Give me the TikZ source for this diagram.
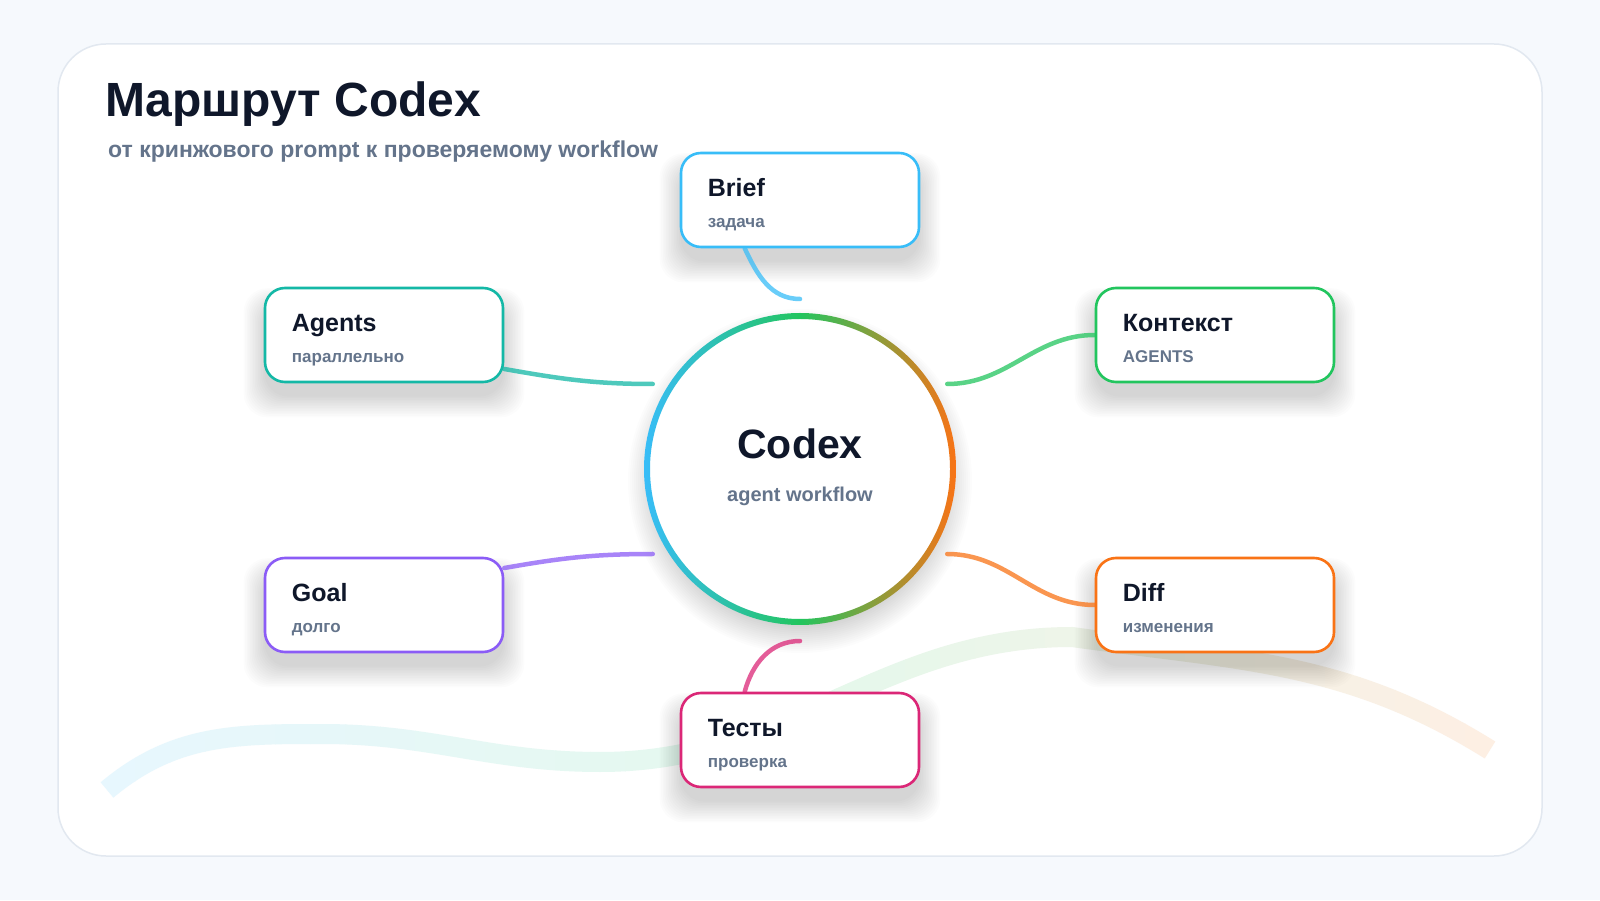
\documentclass[tikz,border=0pt]{standalone}
\usepackage{fontspec}
\setmainfont{Liberation Sans}
\usetikzlibrary{positioning,calc}

\definecolor{pagebg}{HTML}{F6F9FD}
\definecolor{cardline}{HTML}{E2E8F0}
\definecolor{ink}{HTML}{0F172A}
\definecolor{muted}{HTML}{64748B}
\definecolor{cSky}{HTML}{38BDF8}
\definecolor{cTeal}{HTML}{14B8A6}
\definecolor{cGreen}{HTML}{22C55E}
\definecolor{cViolet}{HTML}{8B5CF6}
\definecolor{cOrange}{HTML}{F97316}
\definecolor{cPink}{HTML}{DB2777}

\newcommand\wavepath{(107,110) to[out=40,in=180] (322,166) to[out=0,in=180] (600,138)
  to[out=0,in=180] (1072,263) to[out=-8,in=148] (1490,150)}

\tikzset{
  stepcard/.style={draw=#1, line width=2.6pt, fill=white, rounded corners=20pt,
    minimum width=238pt, minimum height=94pt},
  softshade/.style={fill=black, fill opacity=0.011},
  cardtitle/.style={anchor=base west, text=ink, inner sep=0pt,
    font=\fontsize{25}{30}\selectfont\bfseries},
  cardsub/.style={anchor=base west, text=muted, inner sep=0pt,
    font=\fontsize{17}{20}\selectfont\bfseries},
  link/.style={draw=#1, draw opacity=0.75, line width=4.5pt, line cap=round},
}

\begin{document}
\begin{tikzpicture}[x=1pt,y=1pt]
  \useasboundingbox (0,0) rectangle (1600,900);
  \fill[pagebg] (0,0) rectangle (1600,900);
  \draw[cardline, line width=1.5pt, fill=white, rounded corners=48pt] (58,44) rectangle (1542,856);

  % Wave ribbon in the background
  \foreach \i in {0,...,19} {
    \pgfmathsetmacro\xa{100+35*\i}
    \pgfmathtruncatemacro\pa{5*\i}
    \begin{scope}
      \clip (\xa,0) rectangle ++(35.5,900);
      \draw[draw=cGreen!\pa!cSky!12!white, line width=20pt] \wavepath;
    \end{scope}
    \pgfmathsetmacro\xb{800+35*\i}
    \begin{scope}
      \clip (\xb,0) rectangle ++(35.5,900);
      \draw[draw=cOrange!\pa!cGreen!12!white, line width=20pt] \wavepath;
    \end{scope}
  }

  % Title
  \node[anchor=base west, inner sep=0pt, text=ink, font=\fontsize{48}{57}\selectfont\bfseries]
    (title) at (105,783) {Маршрут Codex};
  \node[anchor=base west, inner sep=0pt, text=muted, font=\fontsize{23}{27}\selectfont\bfseries]
    (subtitle) at (108,742) {от кринжового prompt к проверяемому workflow};

  % Hub
  \foreach \k in {1,...,16}
    \fill[softshade] (800,419) circle (140+2*\k);
  \node[circle, minimum size=306pt, fill=white] (hub) at (800,431) {};
  \shade[left color=cSky, right color=cOrange, middle color=cGreen, even odd rule]
    (hub.center) circle (156) circle (150);
  \node[anchor=base, inner sep=0pt, text=ink, font=\fontsize{41}{48}\selectfont\bfseries]
    (hubtitle) at (800,441) {Codex};
  \node[anchor=base, inner sep=0pt, text=muted, font=\fontsize{20}{24}\selectfont\bfseries]
    (hubsub) at (800,398) {agent workflow};

  % Step cards
  \foreach \nm/\x/\y/\col/\ttl/\sub in {
      brief/800/700/cSky/Brief/задача,
      agents/384/565/cTeal/Agents/параллельно,
      context/1215/565/cGreen/Контекст/AGENTS,
      goal/384/295/cViolet/Goal/долго,
      diff/1215/295/cOrange/Diff/изменения,
      tests/800/160/cPink/Тесты/проверка} {
    \foreach \k in {1,...,14}
      \fill[softshade, rounded corners=24pt]
        (\x-118-1.6*\k,\y-60-1.6*\k) rectangle (\x+118+1.6*\k,\y+30+1.2*\k);
    \node[stepcard=\col] (\nm) at (\x,\y) {};
    \node[cardtitle] (\nm-t) at ($(\nm.north west)+(28,-45)$) {\ttl};
    \node[cardsub] (\nm-s) at ($(\nm.north west)+(28,-76)$) {\sub};
  }

  % Links
  \coordinate (briefout) at ($(brief.south west)+(65,0)$);
  \coordinate (testsin) at ($(tests.north west)+(65,0)$);
  \draw[link=cSky] (briefout) to[out=-65,in=180] ($(hub.center)+(90:170)$);
  \draw[link=cTeal] ($(agents.east)+(0,-34)$) to[out=-10,in=180] ($(hub.center)+(150:170)$);
  \draw[link=cGreen] ($(hub.center)+(30:170)$) to[out=0,in=180] (context.west);
  \draw[link=cViolet] ($(goal.east)+(0,37)$) to[out=10,in=180] ($(hub.center)+(210:170)$);
  \draw[link=cOrange] ($(hub.center)+(330:170)$) to[out=0,in=180] (diff.west);
  \draw[link=cPink] ($(hub.center)+(270:172)$) to[out=180,in=75] (testsin);
\end{tikzpicture}
\end{document}
